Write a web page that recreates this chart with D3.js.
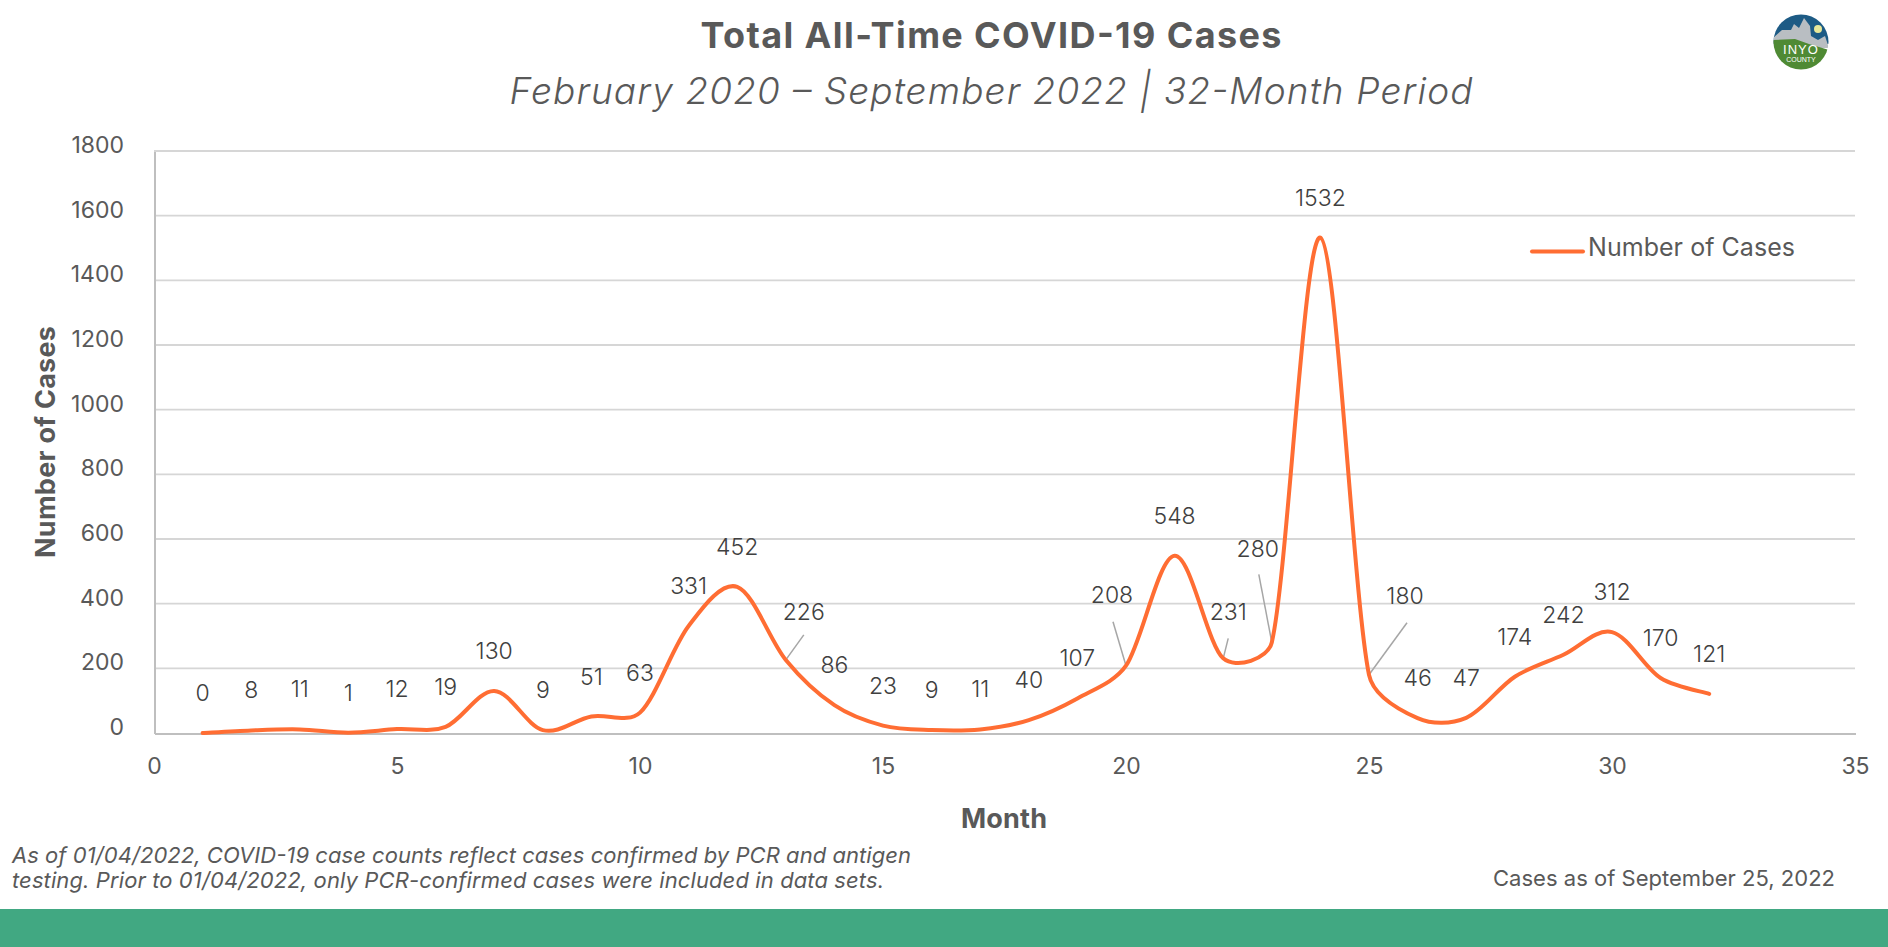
<!DOCTYPE html>
<html>
<head>
<meta charset="utf-8">
<script src="https://cdn.jsdelivr.net/npm/d3@7"></script>
<style>
  html, body { margin: 0; padding: 0; background: #fff; overflow: hidden; }
  svg { display: block; font-family: Inter, "Open Sans", sans-serif; }
  .axis path, .axis line { shape-rendering: crispEdges; }
  .axis text { fill: #595959; font-size: 23px; font-family: Inter, sans-serif; }
</style>
</head>
<body>
<svg id="chart" width="1888" height="947"></svg>
<script>
// values
const months = d3.range(1, 33);
const cases = [0, 8, 11, 1, 12, 19, 130, 9, 51, 63, 331, 452, 226, 86, 23, 9, 11, 40, 107, 208,
               548, 231, 280, 1532, 180, 46, 47, 174, 242, 312, 170, 121];
const xTicks = [0, 5, 10, 15, 20, 25, 30, 35];
const yTicks = [0, 200, 400, 600, 800, 1000, 1200, 1400, 1600, 1800];

const titleText = "Total All-Time COVID-19 Cases";
const subtitleText = "February 2020 \u2013 September 2022 | 32-Month Period";
const seriesName = "Number of Cases";
const xTitle = "Month";
const noteLines = [
  "As of 01/04/2022, COVID-19 case counts reflect cases confirmed by PCR and antigen",
  "testing. Prior to 01/04/2022, only PCR-confirmed cases were included in data sets."
];
const noteWidths = [899, 872];
const asOfText = "Cases as of September 25, 2022";

// labels Excel moved away from their point, with a leader line
const movedMonths = [13, 20, 22, 23, 25];
const movedDx = [18, -14, 5, -14, 36];
const movedDy = [-46, -69, -45, -92, -77];
const leaderDx = [18, -13, 5, -13, 38];
const leaderDy = [-25, -44, -20, -68, -52];

const orange = "#ff6d33";
const grey = "#595959";

const svg = d3.select("#chart");
const plotLeft = 154, plotRight = 1855, plotTop = 151, plotBottom = 733;

const x = d3.scaleLinear().domain([0, 35]).range([plotLeft, plotRight]);
const y = d3.scaleLinear().domain([0, 1800]).range([plotBottom, plotTop]);

// same smoothing as an Excel "smoothed line": short segments get short handles
function curveExcel(context) {
  let pts = [];
  const dist = (a, b) => Math.hypot(b[0] - a[0], b[1] - a[1]);
  const handle = (p0, p1, p2) => {
    const chord = dist(p0, p2);
    return chord > 0 ? Math.min(0.5, dist(p1, p2) / chord) / 3 : 0;
  };
  return {
    lineStart() { pts = []; },
    point(px, py) { pts.push([+px, +py]); },
    lineEnd() {
      context.moveTo(pts[0][0], pts[0][1]);
      for (let i = 0; i < pts.length - 1; i++) {
        const p0 = pts[Math.max(i - 1, 0)], p1 = pts[i], p2 = pts[i + 1];
        const p3 = pts[Math.min(i + 2, pts.length - 1)];
        const a = handle(p0, p1, p2), b = handle(p3, p2, p1);
        context.bezierCurveTo(
          p1[0] + (p2[0] - p0[0]) * a, p1[1] + (p2[1] - p0[1]) * a,
          p2[0] - (p3[0] - p1[0]) * b, p2[1] - (p3[1] - p1[1]) * b,
          p2[0], p2[1]
        );
      }
    },
    areaStart() {},
    areaEnd() {}
  };
}

// gridlines
svg.append("g")
  .selectAll("line")
  .data(yTicks.slice(1))
  .join("line")
  .attr("x1", plotLeft)
  .attr("x2", plotRight)
  .attr("y1", d => y(d))
  .attr("y2", d => y(d))
  .attr("stroke", "#d6d6d6")
  .attr("stroke-width", 1.8);

// axes
const yAxis = svg.append("g")
  .attr("class", "axis")
  .attr("transform", `translate(${plotLeft},0)`)
  .call(d3.axisLeft(y).tickValues(yTicks).tickFormat(d3.format("d")).tickSize(0).tickPadding(30));
yAxis.select(".domain").attr("stroke", "#bfbfbf").attr("stroke-width", 2);
yAxis.selectAll("text").attr("dy", "0.06em");

const xAxis = svg.append("g")
  .attr("class", "axis")
  .attr("transform", `translate(0,${plotBottom})`)
  .call(d3.axisBottom(x).tickValues(xTicks).tickSize(0).tickPadding(25));
xAxis.select(".domain").attr("stroke", "#bfbfbf").attr("stroke-width", 2);

// series
const points = months.map((m, i) => ({ month: m, value: cases[i] }));

const line = d3.line()
  .x(d => x(d.month))
  .y(d => y(d.value))
  .curve(curveExcel);

// leader lines
svg.append("g")
  .selectAll("line")
  .data(movedMonths)
  .join("line")
  .attr("x1", d => x(d))
  .attr("y1", d => y(cases[d - 1]))
  .attr("x2", (d, i) => x(d) + leaderDx[i])
  .attr("y2", (d, i) => y(cases[d - 1]) + leaderDy[i])
  .attr("stroke", "#a6a6a6")
  .attr("stroke-width", 1.5);

svg.append("path")
  .datum(points)
  .attr("d", line)
  .attr("fill", "none")
  .attr("stroke", orange)
  .attr("stroke-width", 4)
  .attr("stroke-linecap", "round");

// data labels
svg.append("g")
  .selectAll("text")
  .data(points)
  .join("text")
  .attr("x", d => {
    const k = movedMonths.indexOf(d.month);
    return x(d.month) + (k < 0 ? 0 : movedDx[k]);
  })
  .attr("y", d => {
    const k = movedMonths.indexOf(d.month);
    return y(d.value) + (k < 0 ? -40 : movedDy[k] - 1.5);
  })
  .attr("dy", "0.35em")
  .attr("text-anchor", "middle")
  .attr("font-size", 23)
  .attr("font-weight", 300)
  .attr("fill", "#404040")
  .text(d => d.value);

// titles
svg.append("text")
  .attr("x", 991).attr("y", 47.5)
  .attr("text-anchor", "middle")
  .attr("font-size", 36).attr("font-weight", 700)
  .attr("textLength", 581)
  .attr("fill", grey)
  .text(titleText);

svg.append("text")
  .attr("x", 991).attr("y", 104)
  .attr("text-anchor", "middle")
  .attr("font-size", 37).attr("font-style", "italic").attr("font-weight", 300)
  .attr("textLength", 963)
  .attr("fill", grey)
  .text(subtitleText);

svg.append("text")
  .attr("x", 1004).attr("y", 828)
  .attr("text-anchor", "middle")
  .attr("font-size", 27).attr("font-weight", 700)
  .attr("textLength", 86)
  .attr("fill", grey)
  .text(xTitle);

svg.append("text")
  .attr("transform", "translate(55,442) rotate(-90)")
  .attr("text-anchor", "middle")
  .attr("font-size", 27).attr("font-weight", 700)
  .attr("textLength", 232)
  .attr("fill", grey)
  .text(seriesName);

// legend
svg.append("line")
  .attr("x1", 1532).attr("x2", 1583)
  .attr("y1", 251.5).attr("y2", 251.5)
  .attr("stroke", orange).attr("stroke-width", 4)
  .attr("stroke-linecap", "round");

svg.append("text")
  .attr("x", 1588).attr("y", 256)
  .attr("font-size", 25)
  .attr("textLength", 207)
  .attr("fill", grey)
  .text(seriesName);

// notes
svg.append("g")
  .selectAll("text")
  .data(noteLines)
  .join("text")
  .attr("x", 12)
  .attr("y", (d, i) => 863 + i * 25)
  .attr("font-size", 22).attr("font-style", "italic")
  .attr("textLength", (d, i) => noteWidths[i])
  .attr("fill", grey)
  .text(d => d);

svg.append("text")
  .attr("x", 1835).attr("y", 886)
  .attr("text-anchor", "end")
  .attr("font-size", 22)
  .attr("textLength", 342)
  .attr("fill", grey)
  .text(asOfText);

// bottom band
svg.append("rect")
  .attr("x", 0).attr("y", 909)
  .attr("width", 1888).attr("height", 38)
  .attr("fill", "#41a882");

// county badge
const badge = svg.append("g").attr("transform", "translate(1801,42)");
badge.append("clipPath").attr("id", "badge-clip")
  .append("circle").attr("r", 27.5);
const inner = badge.append("g").attr("clip-path", "url(#badge-clip)");
inner.append("rect").attr("x", -28).attr("y", -28).attr("width", 56).attr("height", 30).attr("fill", "#1d5b85");
inner.append("circle").attr("cx", 17).attr("cy", -13).attr("r", 4).attr("fill", "#e8e89a");
inner.append("path")
  .attr("d", "M-28,-4 L-19,-12 L-10,-12 L-7,-18 L-2,-14 L3,-24 L9,-16 L10,-6 L17,-2 L24,-6 L28,6 L-28,6 Z")
  .attr("fill", "#b9bec2");
inner.append("path")
  .attr("d", "M-28,-2 L-6,-3 L8,2 L28,8 L28,28 L-28,28 Z")
  .attr("fill", "#4f8a34");
badge.append("text")
  .attr("y", 12).attr("text-anchor", "middle")
  .attr("font-family", "Liberation Sans").attr("font-size", 13)
  .attr("letter-spacing", 1)
  .attr("fill", "#fff").text("INYO");
badge.append("text")
  .attr("y", 20).attr("text-anchor", "middle")
  .attr("font-family", "Liberation Sans").attr("font-size", 7)
  .attr("fill", "#fff").text("COUNTY");
</script>
</body>
</html>
